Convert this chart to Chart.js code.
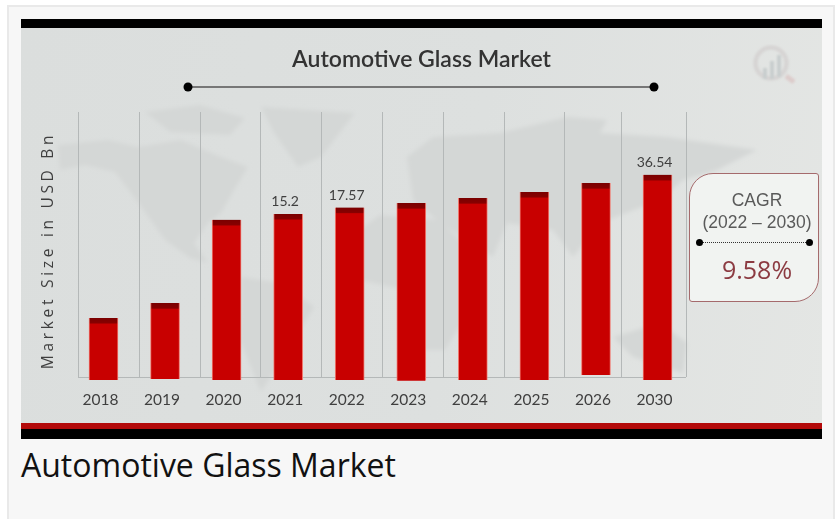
<!DOCTYPE html>
<html lang="en">
<head>
<meta charset="UTF-8">
<title>Automotive Glass Market</title>
<script src="https://cdn.jsdelivr.net/npm/chart.js"></script>
<style>
    html, body { margin: 0; height: 100%; background: #fff; overflow: hidden; }
    #frame { position: absolute; left: 7px; top: 5px; width: 824px; height: 600px; border: 2px solid #e9e9e9; background: #f7f7f7; }
    #panel { position: absolute; left: 21px; top: 19px; width: 801px; height: 420px; background: linear-gradient(100deg, #dbdedd 0%, #dde0df 55%, #e4e6e4 100%); }
    #panel .topbar { position: absolute; left: 0; top: 0; width: 100%; height: 9px; background: #000; }
    #panel .redbar { position: absolute; left: 0; top: 404px; width: 100%; height: 6px; background: #b30a0a; }
    #panel .blackbar { position: absolute; left: 0; top: 410px; width: 100%; height: 10px; background: #000; }
    #decor { position: absolute; left: 0; top: 0; }
    #chart-box { position: absolute; left: 21px; top: 19px; width: 801px; height: 420px; }
    #cagr { position: absolute; left: 689px; top: 173px; width: 130px; height: 129px; box-sizing: border-box; border: 1.5px solid #a56a6c; border-radius: 24px 3px 24px 3px; background: #f1f3f1; font-family: "Liberation Sans", sans-serif; color: #5a5a5a; text-align: center; }
    #cagr div { position: absolute; left: 3px; width: 100%; }
    #cagr .name { top: 16px; font-size: 17.5px; }
    #cagr .range { top: 38px; font-size: 17.5px; }
    #cagr .rule { left: 9px; width: 109px; top: 68px; border-top: 1px dotted #333; }
    #cagr .dot { width: 7px; height: 7px; border-radius: 50%; background: #000; top: 65px; }
    #cagr .rate { top: 78px; font-family: "Open Sans", sans-serif; font-size: 25px; color: #8c3b42; }
    #caption { position: absolute; left: 21px; top: 443px; font-family: "Open Sans", sans-serif; font-size: 32px; color: #111; }
</style>
</head>
<body>
<div id="frame"></div>
<div id="panel">
    <div class="topbar"></div>
    <div class="redbar"></div>
    <div class="blackbar"></div>
</div>

<!-- faint world map, heading rule and logo behind the chart -->
<svg id="decor" width="836" height="519">
    <defs>
        <filter id="soft"><feGaussianBlur stdDeviation="2.2"/></filter>
        <filter id="softer"><feGaussianBlur stdDeviation="1"/></filter>
    </defs>
    <g fill="#d4d7d6" filter="url(#soft)">
        <polygon points="58,145 108,140 138,147 181,140 221,157 248,167 234,190 221,213 208,223 194,243 208,263 190,258 165,240 140,205 115,172 85,165 60,170"/>
        <polygon points="261,107 355,113 321,157 298,167 274,133"/>
        <polygon points="145,112 200,105 245,118 230,135 170,132"/>
        <polygon points="241,277 281,283 314,307 288,350 261,392 240,340"/>
        <polygon points="345,240 380,215 440,220 480,260 470,310 445,350 420,350 405,290 360,280"/>
        <polygon points="407,157 433,137 500,133 567,117 607,120 600,133 667,137 757,150 717,170 683,180 660,200 600,223 573,257 553,230 507,223 493,257 467,240 433,217 413,200"/>
        <polygon points="613,337 660,323 687,343 683,373 633,357"/>
    </g>
    <line x1="188" y1="87" x2="654" y2="87" stroke="#777" stroke-width="2"/>
    <circle cx="188" cy="87" r="4.5" fill="#000"/>
    <circle cx="654" cy="87" r="4.5" fill="#000"/>
    <g opacity="0.55" filter="url(#softer)">
        <circle cx="771" cy="63" r="15.5" fill="none" stroke="#cdc8c8" stroke-width="4.5"/>
        <line x1="765" y1="79" x2="765" y2="68" stroke="#b4bcbe" stroke-width="4"/>
        <line x1="772" y1="79" x2="772" y2="61" stroke="#b4bcbe" stroke-width="4"/>
        <line x1="779" y1="77" x2="779" y2="55" stroke="#b4bcbe" stroke-width="4"/>
        <line x1="786" y1="76" x2="794" y2="82" stroke="#d8b8b8" stroke-width="5"/>
    </g>
</svg>

<div id="chart-box"><canvas id="marketChart" width="801" height="420"></canvas></div>

<div id="cagr">
    <div class="name">CAGR</div>
    <div class="range">(2022 – 2030)</div>
    <div class="rule"></div>
    <div class="dot" style="left:6px"></div>
    <div class="dot" style="left:116px"></div>
    <div class="rate">9.58%</div>
</div>
<div id="caption">Automotive Glass Market</div>

<script>
const years = ['2018', '2019', '2020', '2021', '2022', '2023', '2024', '2025', '2026', '2030'];
const marketSize = [1.47, 2.05, 13.3, 15.2, 17.57, 19.4, 21.7, 24.9, 30.4, 36.54];
const barBases = [0.365, 0.373, 0.365, 0.365, 0.365, 0.358, 0.365, 0.365, 0.408, 0.365];
const labelledYears = ['2021', '2022', '2030'];

const axisColor = '#3f3f3f';

// vertical dividers and baseline sit under the bars and stop short of their feet
const dividerPlugin = {
    id: 'dividers',
    beforeDatasetsDraw(chart) {
        const { ctx, chartArea: area } = chart;
        const start = area.left + 5.3;
        const step = 60.8;
        ctx.save();
        ctx.strokeStyle = '#b4b8b8';
        ctx.lineWidth = 1;
        ctx.beginPath();
        for (let i = 0; i <= years.length; i++) {
            const x = Math.round(start + i * step - (i === 9 ? 4 : 0)) + 0.5;
            ctx.moveTo(x, area.top);
            ctx.lineTo(x, area.bottom);
        }
        ctx.moveTo(start, area.bottom + 0.5);
        ctx.lineTo(start + years.length * step, area.bottom + 0.5);
        ctx.stroke();
        ctx.restore();
    }
};

const valueLabelPlugin = {
    id: 'valueLabels',
    afterDatasetsDraw(chart) {
        const { ctx } = chart;
        const meta = chart.getDatasetMeta(0);
        ctx.save();
        ctx.font = '14px Lato';
        ctx.fillStyle = axisColor;
        ctx.textAlign = 'center';
        ctx.textBaseline = 'bottom';
        labelledYears.forEach(year => {
            const i = years.indexOf(year);
            ctx.fillText(String(marketSize[i]), meta.data[i].x - 3, meta.data[i].y - 5);
        });
        ctx.restore();
    }
};

// the axis title is spaced out and sits a little below the middle of the axis
function spaceOutTitle(scale) {
    if (scale.spacedTitle) return;
    scale.spacedTitle = true;
    const drawTitle = scale.drawTitle.bind(scale);
    scale.drawTitle = () => {
        const { ctx } = scale;
        ctx.save();
        ctx.letterSpacing = '3.7px';
        ctx.translate(0, 6);
        drawTitle();
        ctx.restore();
    };
}

// dark cap at the head of every bar, the rest flat red
function barFill(context) {
    const { chart, dataIndex } = context;
    if (!chart.chartArea) return '#c80000';
    const y = chart.scales.y;
    const top = y.getPixelForValue(marketSize[dataIndex]);
    const gradient = chart.ctx.createLinearGradient(0, top, 0, top + 10);
    gradient.addColorStop(0, '#7a0000');
    gradient.addColorStop(0.5, '#870000');
    gradient.addColorStop(0.62, '#c80000');
    gradient.addColorStop(1, '#c80000');
    return gradient;
}

new Chart(document.getElementById('marketChart'), {
    type: 'bar',
    data: {
        labels: years,
        datasets: [{
            label: 'Market Size in USD Bn',
            data: marketSize.map((v, i) => [barBases[i], v]),
            backgroundColor: barFill,
            borderColor: '#f0766c',
            borderWidth: { left: 1, right: 1, top: 0, bottom: 0 },
            barThickness: 29,
            borderSkipped: false,
            clip: false
        }]
    },
    plugins: [dividerPlugin, valueLabelPlugin],
    options: {
        responsive: false,
        animation: false,
        plugins: {
            legend: { display: false },
            tooltip: { enabled: false },
            title: {
                display: true,
                text: 'Automotive Glass Market',
                color: '#333',
                font: { family: 'Lato', size: 23, weight: '600' },
                padding: { top: 27, bottom: 38.4 }
            }
        },
        scales: {
            x: {
                grid: { display: false },
                border: { display: false },
                afterFit(scale) { scale.height = 62; },
                ticks: { color: axisColor, font: { family: 'Lato', size: 15.5 }, padding: 6, labelOffset: -3, maxRotation: 0, autoSkip: false }
            },
            y: {
                type: 'logarithmic',
                min: 0.39,
                max: 150,
                grid: { display: false },
                border: { display: false },
                ticks: { display: false },
                afterFit(scale) { scale.width = 51.7; spaceOutTitle(scale); },
                title: {
                    display: true,
                    text: 'Market Size in USD Bn',
                    color: axisColor,
                    font: { family: 'Open Sans', size: 15.5 },
                    padding: { top: 18, bottom: 0 }
                }
            },
            // empty strip on the right keeps the plot clear of the CAGR card
            yRight: {
                position: 'right',
                grid: { display: false },
                border: { display: false },
                ticks: { display: false },
                afterFit(scale) { scale.width = 133.7; }
            }
        }
    }
});
</script>
</body>
</html>
